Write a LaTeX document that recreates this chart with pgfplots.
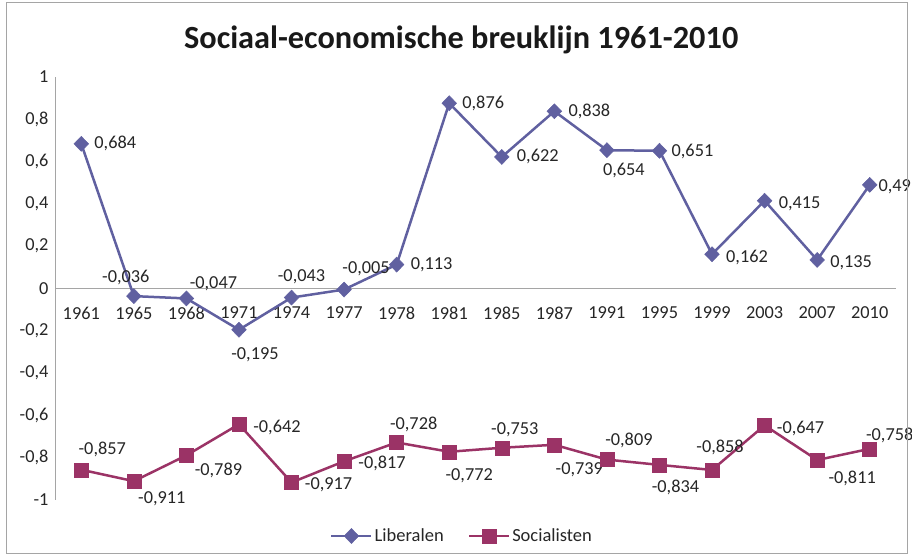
\documentclass[border=0pt]{standalone}
\usepackage{pgfplots}
\pgfplotsset{compat=1.18}
\usepackage{pgfplotstable}
\usepackage{fontspec}
\setmainfont{Carlito}
\definecolor{lib}{RGB}{96,96,160}
\definecolor{soc}{RGB}{155,51,102}
\definecolor{axgray}{RGB}{165,165,165}

\pgfplotstableread{
x y lab dx dy
0 0.684 0,684 34 0
1 -0.036 -0,036 -8 19
2 -0.047 -0,047 27 15
3 -0.195 -0,195 16 -25
4 -0.043 -0,043 10 21
5 -0.005 -0,005 22 21
6 0.113 0,113 35 0
7 0.876 0,876 34 0
8 0.622 0,622 36 0
9 0.838 0,838 35 0
10 0.654 0,654 17 -20
11 0.651 0,651 33 -1
12 0.162 0,162 35 -3
13 0.415 0,415 35 -3
14 0.135 0,135 34 -3
15 0.490 0,49 25 -2
}\liberalen

\pgfplotstableread{
x y lab dx dy
0 -0.857 -0,857 21 20
1 -0.911 -0,911 28 -18
2 -0.789 -0,789 32 -15
3 -0.642 -0,642 38 -3
4 -0.917 -0,917 37 -2
5 -0.817 -0,817 38 -2
6 -0.728 -0,728 17 18
7 -0.772 -0,772 20 -24
8 -0.753 -0,753 13 18
9 -0.739 -0,739 25 -25
10 -0.809 -0,809 22 19
11 -0.834 -0,834 16 -23
12 -0.858 -0,858 8 23
13 -0.647 -0,647 36 -3
14 -0.811 -0,811 35 -18
15 -0.758 -0,758 20 13
}\socialisten

\pgfplotsset{
  lbl/.style={
    point meta=explicit symbolic,
    nodes near coords,
    visualization depends on={\thisrow{dx} \as \dx},
    visualization depends on={\thisrow{dy} \as \dy},
    every node near coord/.style={anchor=center, xshift=\dx pt, yshift=\dy pt,
      font=\fontsize{18.3}{22}\selectfont, text=black!85, inner sep=0pt},
  }
}

\begin{document}
\begin{tikzpicture}
\begin{axis}[
  name=ax,
  scale only axis,
  width=841pt, height=423pt,
  xmin=-0.5, xmax=15.5,
  ymin=-1, ymax=1,
  clip=false,
  axis x line=middle,
  axis y line=left,
  axis line style={-, axgray, line width=1pt},
  xtick={0,...,15},
  xticklabels={1961,1965,1968,1971,1974,1977,1978,1981,1985,1987,1991,1995,1999,2003,2007,2010},
  ytick={-1,-0.8,-0.6,-0.4,-0.2,0,0.2,0.4,0.6,0.8,1},
  yticklabels={-1,{-0,8},{-0,6},{-0,4},{-0,2},0,{0,2},{0,4},{0,6},{0,8},1},
  major tick length=0pt,
  tick label style={font=\fontsize{18.3}{22}\selectfont, text=black!85},
  xticklabel style={yshift=-15pt},
  yticklabel style={xshift=-3pt},
  legend columns=2,
  legend style={draw=none, fill=none, at={(0.484,-0.0851)}, anchor=center,
    font=\fontsize{18.5}{22}\selectfont, text=black!85,
    /tikz/every even column/.append style={column sep=22pt}},
  legend image code/.code={\draw[mark repeat=2,mark phase=2,#1] plot coordinates {(0pt,0pt)(20pt,0pt)(40pt,0pt)};},
  title={\fontsize{32.3}{38}\selectfont\bfseries Sociaal-economische breuklijn 1961-2010},
  title style={at={(0.483,1.0)}, anchor=center, yshift=31pt, text=black!90},
]
\addplot[lib, line width=2.5pt, mark=diamond*, mark size=7.5pt,
  mark options={xscale=1.3, solid, line width=0.5pt}, lbl] table[x=x, y=y, meta=lab] {\liberalen};
\addlegendentry{Liberalen}
\addplot[soc, line width=2.5pt, mark=square*, mark size=7pt,
  mark options={solid, line width=0.5pt}, lbl] table[x=x, y=y, meta=lab] {\socialisten};
\addlegendentry{Socialisten}
\coordinate (bbA) at (rel axis cs:-0.06540,1.18203);
\coordinate (bbB) at (rel axis cs:1.01903,-0.13002);
\coordinate (frA) at (rel axis cs:-0.05708,1.17494);
\coordinate (frB) at (rel axis cs:1.01308,-0.12530);
\end{axis}
\draw[axgray, line width=1pt] (frA) rectangle (frB);
\pgfresetboundingbox
\useasboundingbox (bbA) rectangle (bbB);
\end{tikzpicture}
\end{document}
